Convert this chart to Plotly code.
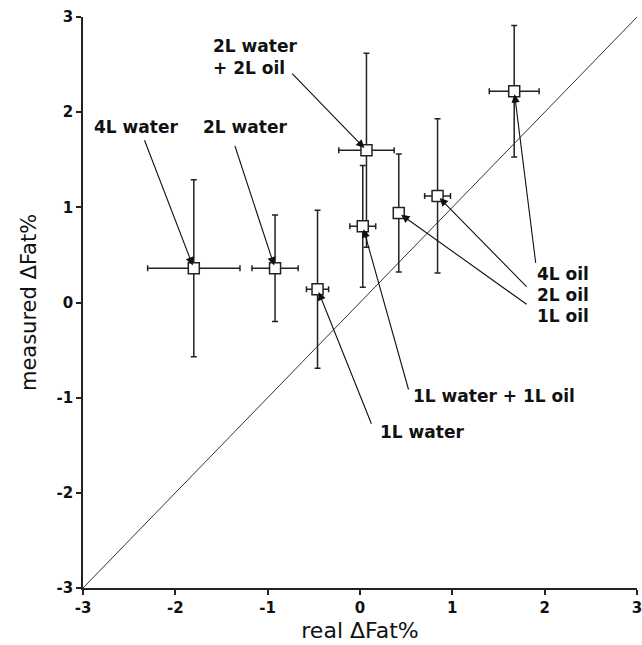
import plotly.graph_objects as go

# ---- data ----
labels = ["4L water", "2L water", "1L water", "1L water + 1L oil",
          "2L water + 2L oil", "1L oil", "2L oil", "4L oil"]
real_fat = [-1.80, -0.92, -0.46, 0.03, 0.07, 0.42, 0.84, 1.67]
real_err = [0.50, 0.25, 0.12, 0.14, 0.30, 0.02, 0.14, 0.27]
measured_fat = [0.36, 0.36, 0.14, 0.80, 1.60, 0.94, 1.12, 2.22]
measured_err = [0.93, 0.56, 0.83, 0.64, 1.02, 0.62, 0.81, 0.69]
identity = [-3, 3]
tick_values = [-3, -2, -1, 0, 1, 2, 3]
tick_labels = ["-3", "-2", "-1", "0", "1", "2", "3"]

# ---- label layout (text position, anchor, arrow tail) ----
label_layout = {
    "4L water": dict(tx=-2.43, ty=1.84, xa="center", text="4L water", tail=(-2.34, 1.72)),
    "2L water": dict(tx=-1.25, ty=1.84, xa="center", text="2L water", tail=(-1.36, 1.66)),
    "1L water": dict(tx=0.20, ty=-1.36, xa="left", text="1L water", tail=(0.13, -1.29)),
    "1L water + 1L oil": dict(tx=0.55, ty=-0.98, xa="left", text="1L water + 1L oil", tail=(0.53, -0.93)),
    "2L water + 2L oil": dict(tx=-1.61, ty=2.58, xa="left", text="2L water<br>+ 2L oil", tail=(-0.75, 2.42)),
    "1L oil": dict(tx=1.89, ty=-0.145, xa="left", text="1L oil", tail=(1.82, -0.03)),
    "2L oil": dict(tx=1.89, ty=0.075, xa="left", text="2L oil", tail=(1.82, 0.15)),
    "4L oil": dict(tx=1.89, ty=0.295, xa="left", text="4L oil", tail=(1.905, 0.40)),
}

fig = go.Figure()

fig.add_trace(go.Scatter(
    x=identity, y=identity, mode="lines",
    line=dict(color="#333333", width=1), hoverinfo="skip", showlegend=False))

fig.add_trace(go.Scatter(
    x=real_fat, y=measured_fat, mode="markers",
    error_x=dict(type="data", array=real_err, color="#222222", thickness=1.5, width=3),
    error_y=dict(type="data", array=measured_err, color="#222222", thickness=1.5, width=3),
    marker=dict(symbol="square", size=11, color="white",
                line=dict(color="#222222", width=1.5)),
    showlegend=False))

lab_font = dict(family="DejaVu Sans", size=17, color="#111111")
annotations = []
for name, xv, yv in zip(labels, real_fat, measured_fat):
    L = label_layout[name]
    annotations.append(dict(
        x=xv, y=yv, xref="x", yref="y", ax=L["tail"][0], ay=L["tail"][1],
        axref="x", ayref="y", text="", showarrow=True,
        arrowhead=2, arrowsize=1.5, arrowwidth=1.1, arrowcolor="#111111", standoff=3))
    annotations.append(dict(
        x=L["tx"], y=L["ty"], xref="x", yref="y", text="<b>" + L["text"] + "</b>",
        showarrow=False, xanchor=L["xa"], yanchor="middle", align="left",
        font=lab_font))

fig.update_layout(
    width=642, height=645,
    margin=dict(l=83, r=5, t=17, b=57, autoexpand=False),
    plot_bgcolor="white", paper_bgcolor="white",
    annotations=annotations,
    font=dict(family="DejaVu Sans", color="#111111"),
)
axis_common = dict(
    range=[-3, 3], tickmode="array", tickvals=tick_values, ticktext=tick_labels,
    showgrid=False, zeroline=False, automargin=False,
    showline=True, linecolor="#222222", linewidth=1.5,
    ticks="outside", ticklen=5, tickwidth=1.5, tickcolor="#222222",
    ticklabeloverflow="allow",
    tickfont=dict(family="DejaVu Sans", size=15, color="#111111", weight="bold"),
)
fig.update_xaxes(**axis_common, title=dict(text="real ΔFat%", font=dict(size=22), standoff=7))
fig.update_yaxes(**axis_common, title=dict(text="measured ΔFat%", font=dict(size=21), standoff=14))

fig.write_html("out.html")
